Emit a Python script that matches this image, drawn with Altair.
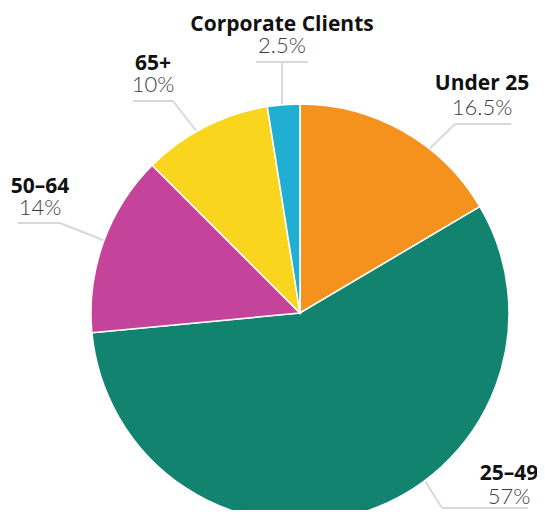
import altair as alt
import pandas as pd

# ---- data ----
categories = ["Under 25", "25–49", "50–64", "65+", "Corporate Clients"]
shares = [16.5, 57, 14, 10, 2.5]
value_labels = ["16.5%", "57%", "14%", "10%", "2.5%"]
colors = ["#F5921E", "#12836F", "#C4449B", "#FAD51D", "#20AFD2"]

# ---- layout (label anchors & leader lines, chart pixel coords) ----
label_x = [474, 501, 32, 145, 274]
name_y = [82, 472, 185, 62, 23]
value_y = [107, 496, 207, 84, 45]
# leader: start point (inside pie), elbow, end of underline
lead_start = [(408, 154), (410, 462), (110, 238), (200, 138), (274, 110)]
lead_elbow = [(447, 116), (434, 500), (52, 215), (165, 93), (274, 54)]
lead_end = [(503, 116), (520, 500), (10, 215), (125, 93), (248, 54)]
under_extra = [None, None, None, None, (300, 54)]

CX, CY, R = 292, 305, 209

pie_df = pd.DataFrame({"cat": categories, "share": shares, "idx": range(len(categories))})
lab_df = pd.DataFrame({"cat": categories, "val": value_labels, "lx": label_x,
                       "ny": name_y, "vy": value_y})
segs = []
for i in range(len(categories)):
    segs.append({"x": lead_start[i][0], "y": lead_start[i][1], "x2": lead_elbow[i][0], "y2": lead_elbow[i][1]})
    segs.append({"x": lead_elbow[i][0], "y": lead_elbow[i][1], "x2": lead_end[i][0], "y2": lead_end[i][1]})
    if under_extra[i] is not None:
        segs.append({"x": lead_elbow[i][0], "y": lead_elbow[i][1], "x2": under_extra[i][0], "y2": under_extra[i][1]})
seg_df = pd.DataFrame(segs)

lines = alt.Chart(seg_df).mark_rule(color="#D9D9D9", strokeWidth=2).encode(
    x=alt.X("x:Q", scale=None), y=alt.Y("y:Q", scale=None),
    x2="x2:Q", y2="y2:Q")

pie = alt.Chart(pie_df).mark_arc(outerRadius=R, stroke="white", strokeWidth=1.5).encode(
    theta=alt.Theta("share:Q", stack=True),
    order=alt.Order("idx:Q", sort="ascending"),
    color=alt.Color("cat:N", scale=alt.Scale(domain=categories, range=colors), legend=None),
    x=alt.value(CX), y=alt.value(CY))

names = alt.Chart(lab_df).mark_text(font="Open Sans", fontWeight="bold", fontSize=21,
                                    color="#111111", align="center", baseline="alphabetic").encode(
    x=alt.X("lx:Q", scale=None), y=alt.Y("ny:Q", scale=None), text="cat:N")

vals = alt.Chart(lab_df).mark_text(font="Lato", fontWeight=300, fontSize=22,
                                   color="#3d3d3d", align="center", baseline="alphabetic").encode(
    x=alt.X("lx:Q", scale=None), y=alt.Y("vy:Q", scale=None), text="val:N")

chart = alt.layer(lines, pie, names, vals).properties(
    width=529, height=502, padding=0, background="white",
    autosize=alt.AutoSizeParams(type="none")
).configure_view(stroke=None)

chart.save("out.html", embed_options={"renderer": "svg", "actions": False})
